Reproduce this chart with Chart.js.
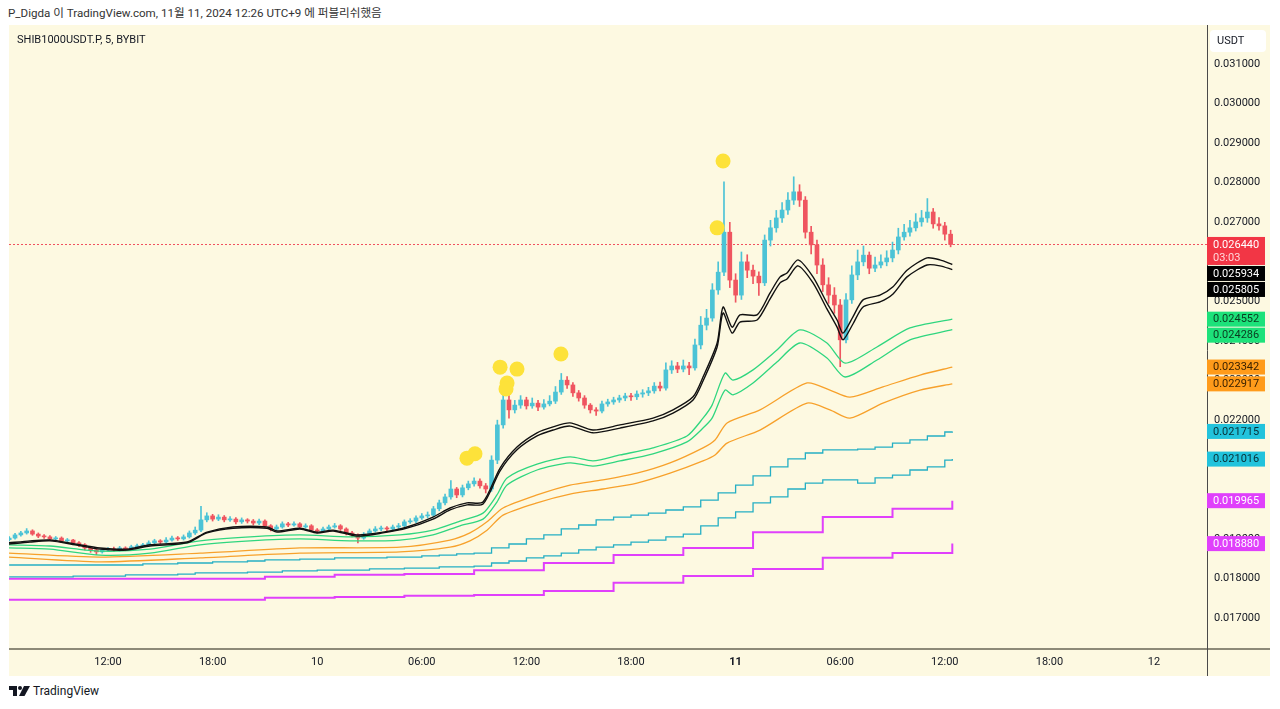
<!DOCTYPE html>
<html lang="ko">
<head>
<meta charset="utf-8">
<title>SHIB1000USDT.P, 5, BYBIT</title>
<script src="https://cdn.jsdelivr.net/npm/chart.js@4.4.1/dist/chart.umd.min.js"></script>
<style>
  html, body { margin: 0; padding: 0; background: #fff; width: 1280px; height: 709px; overflow: hidden;
    font-family: Roboto, "Liberation Sans", "Noto Sans CJK KR", sans-serif; }
  #header { position: absolute; left: 8px; top: 5px; font-size: 11.6px; line-height: 16px; color: #333; white-space: nowrap; }
  #frame { position: absolute; left: 9px; top: 25px; width: 1261px; height: 651px; background: #fdf9e1; }
  #chart { position: absolute; left: 0; top: 0; }
  #legend { position: absolute; left: 8px; top: 8px; font-size: 11px; line-height: 14px; color: #131722; }
  #footer { position: absolute; left: 9px; top: 684px; height: 14px; font-size: 12px; color: #131722;
    display: flex; align-items: center; gap: 3px; }
</style>
</head>
<body>
<div id="header">P_Digda 이 TradingView.com, 11월 11, 2024 12:26 UTC+9 에 퍼블리쉬했음</div>
<div id="frame">
  <canvas id="chart" width="1261" height="651"></canvas>
  <div id="legend">SHIB1000USDT.P, 5, BYBIT</div>
</div>
<div id="footer">
  <svg width="21" height="12" viewBox="0 0 21 12"><path d="M0 1H8V11H4V5H0Z" fill="#131722"/><circle cx="11" cy="3" r="2" fill="#131722"/><path d="M15 1H21L15.5 11H10Z" fill="#131722"/></svg>
  <span>TradingView</span>
</div>

<script>
/* ---------- axes (hours counted from 9 Nov 00:00, UTC+9) ---------- */
const xMin = 6.32;
const xMax = 75.04;
const yMin = 0.016242;
const yMax = 0.031986;
const xTickHours = [12, 18, 24, 30, 36, 42, 48, 54, 60, 66, 72];
const xTickLabels = ['12:00', '18:00', '10', '06:00', '12:00', '18:00', '11', '06:00', '12:00', '18:00', '12'];
const yTickValues = [0.017, 0.018, 0.019, 0.020, 0.021, 0.022, 0.023, 0.024, 0.025, 0.026, 0.027, 0.028, 0.029, 0.030, 0.031];

/* ---------- candles, 20 min each ---------- */
const candleStart = 6 + 20 / 60;
const candleStep = 20 / 60;
const firstOpen = 0.01898;
const closes = [
  0.01902,0.01910,0.01915,0.01920,0.01912,0.01907,0.01905,0.01900,0.01902,0.01895,
  0.01897,0.01890,0.01885,0.01877,0.01872,0.01867,0.01872,0.01874,0.01872,0.01877,
  0.01874,0.01880,0.01882,0.01885,0.01890,0.01895,0.01892,0.01897,0.01902,0.01900,
  0.01905,0.01915,0.01922,0.01948,0.01958,0.01950,0.01955,0.01948,0.01950,0.01943,
  0.01948,0.01945,0.01940,0.01945,0.01933,0.01925,0.01930,0.01938,0.01935,0.01938,
  0.01930,0.01933,0.01922,0.01920,0.01925,0.01930,0.01933,0.01925,0.01915,0.01910,
  0.01902,0.01912,0.01920,0.01925,0.01927,0.01925,0.01930,0.01933,0.01943,0.01945,
  0.01953,0.01958,0.01960,0.01976,0.01991,0.02006,0.02026,0.02011,0.02029,0.02039,
  0.02046,0.02034,0.02026,0.02099,0.02188,0.02251,0.02226,0.02238,0.02251,0.02236,
  0.02243,0.02233,0.02241,0.02248,0.02271,0.02301,0.02289,0.02269,0.02256,0.02238,
  0.02226,0.02223,0.02241,0.02246,0.02251,0.02256,0.02261,0.02259,0.02266,0.02269,
  0.02274,0.02286,0.02281,0.02327,0.02337,0.02329,0.02337,0.02332,0.02390,0.02440,
  0.02458,0.02529,0.02574,0.02675,0.02554,0.02516,0.02600,0.02579,0.02564,0.02547,
  0.02655,0.02686,0.02711,0.02731,0.02756,0.02777,0.02756,0.02675,0.02643,0.02592,
  0.02542,0.02516,0.02491,0.02403,0.02504,0.02567,0.02600,0.02617,0.02584,0.02592,
  0.02600,0.02610,0.02630,0.02663,0.02675,0.02686,0.02701,0.02711,0.02726,0.02696,
  0.02691,0.02670,0.02644
];
const highs = [
  0.01906,0.01914,0.01919,0.01926,0.01923,0.01915,0.01911,0.01908,0.01906,0.01905,
  0.01901,0.01899,0.01893,0.01888,0.01880,0.01875,0.01876,0.01878,0.01879,0.01881,
  0.01880,0.01884,0.01887,0.01889,0.01895,0.01899,0.01898,0.01903,0.01907,0.01906,
  0.01910,0.01920,0.01930,0.01982,0.01966,0.01962,0.01961,0.01959,0.01956,0.01954,
  0.01953,0.01951,0.01949,0.01950,0.01948,0.01936,0.01935,0.01943,0.01942,0.01943,
  0.01941,0.01938,0.01936,0.01926,0.01930,0.01935,0.01939,0.01936,0.01928,0.01919,
  0.01913,0.01916,0.01925,0.01931,0.01932,0.01931,0.01935,0.01939,0.01948,0.01951,
  0.01958,0.01964,0.01968,0.01982,0.01998,0.02013,0.02047,0.02030,0.02036,0.02046,
  0.02054,0.02052,0.02040,0.02110,0.02200,0.02290,0.02262,0.02250,0.02262,0.02258,
  0.02256,0.02250,0.02252,0.02262,0.02285,0.02318,0.02310,0.02295,0.02275,0.02262,
  0.02242,0.02232,0.02248,0.02253,0.02258,0.02263,0.02268,0.02268,0.02274,0.02277,
  0.02283,0.02295,0.02296,0.02345,0.02350,0.02346,0.02352,0.02346,0.02405,0.02462,
  0.02480,0.02545,0.02600,0.02802,0.02700,0.02570,0.02625,0.02618,0.02592,0.02575,
  0.02668,0.02705,0.02730,0.02750,0.02775,0.02815,0.02795,0.02765,0.02690,0.02655,
  0.02608,0.02560,0.02535,0.02505,0.02520,0.02590,0.02630,0.02640,0.02625,0.02612,
  0.02618,0.02628,0.02650,0.02685,0.02695,0.02705,0.02722,0.02730,0.02760,0.02735,
  0.02712,0.02700,0.02680
];
const lows = [
  0.01895,0.01899,0.01907,0.01912,0.01909,0.01903,0.01901,0.01896,0.01897,0.01891,
  0.01892,0.01886,0.01880,0.01872,0.01866,0.01860,0.01864,0.01869,0.01868,0.01869,
  0.01870,0.01871,0.01877,0.01879,0.01882,0.01887,0.01888,0.01889,0.01894,0.01896,
  0.01897,0.01902,0.01911,0.01918,0.01943,0.01945,0.01946,0.01943,0.01944,0.01938,
  0.01939,0.01940,0.01935,0.01936,0.01928,0.01920,0.01921,0.01927,0.01931,0.01932,
  0.01926,0.01927,0.01918,0.01915,0.01916,0.01922,0.01927,0.01921,0.01910,0.01905,
  0.01890,0.01899,0.01909,0.01917,0.01921,0.01920,0.01922,0.01926,0.01930,0.01939,
  0.01941,0.01949,0.01953,0.01956,0.01971,0.01986,0.02000,0.02004,0.02006,0.02024,
  0.02033,0.02028,0.02016,0.02020,0.02090,0.02180,0.02205,0.02218,0.02230,0.02228,
  0.02230,0.02224,0.02228,0.02236,0.02242,0.02265,0.02280,0.02260,0.02248,0.02230,
  0.02218,0.02212,0.02218,0.02235,0.02240,0.02245,0.02249,0.02250,0.02252,0.02258,
  0.02262,0.02268,0.02274,0.02276,0.02318,0.02320,0.02322,0.02315,0.02326,0.02380,
  0.02428,0.02450,0.02518,0.02565,0.02535,0.02498,0.02505,0.02560,0.02545,0.02515,
  0.02540,0.02640,0.02675,0.02700,0.02720,0.02745,0.02740,0.02660,0.02620,0.02570,
  0.02525,0.02495,0.02470,0.02335,0.02395,0.02495,0.02555,0.02590,0.02570,0.02575,
  0.02585,0.02590,0.02600,0.02620,0.02655,0.02665,0.02678,0.02690,0.02700,0.02685,
  0.02680,0.02655,0.02638
];

/* ---------- black band ---------- */
const blackTimes = [6.32,7.53,8.67,10.11,11.54,13.09,14.41,16.53,17.68,19.17,21.12,21.69,23.01,23.99,24.91,26.28,27.77,29.15,
  30.64,31.62,32.59,33.51,34.49,35.46,36.61,37.53,38.50,39.82,41.37,43.26,44.41,45.56,46.13,46.94,47.28,47.80,48.25,49.23,
  49.97,50.55,50.95,51.58,52.44,53.24,53.82,54.16,54.73,55.31,56.28,57.03,57.83,58.98,59.72,60.43];
const blackUpper = [
  0.01890,0.01895,0.01897,0.01887,0.01877,0.01874,0.01885,0.01892,0.01917,0.01930,
  0.01930,0.01920,0.01927,0.01917,0.01922,0.01910,0.01917,0.01930,0.01955,0.01978,
  0.01991,0.01993,0.02079,0.02132,0.02168,0.02183,0.02193,0.02175,0.02188,0.02205,
  0.02226,0.02259,0.02309,0.02395,0.02486,0.02435,0.02466,0.02466,0.02521,0.02562,
  0.02572,0.02605,0.02562,0.02496,0.02453,0.02420,0.02461,0.02504,0.02516,0.02537,
  0.02579,0.02610,0.02605,0.025934
];
const blackLower = [
  0.01887,0.01892,0.01895,0.01885,0.01874,0.01872,0.01882,0.01890,0.01915,0.01927,
  0.01927,0.01917,0.01925,0.01915,0.01920,0.01907,0.01915,0.01927,0.01950,0.01973,
  0.01986,0.01988,0.02072,0.02125,0.02160,0.02175,0.02185,0.02168,0.02180,0.02198,
  0.02218,0.02251,0.02299,0.02385,0.02471,0.02420,0.02448,0.02453,0.02506,0.02547,
  0.02557,0.02590,0.02547,0.02481,0.02435,0.02403,0.02443,0.02486,0.02499,0.02519,
  0.02562,0.02592,0.02590,0.025805
];

/* ---------- green band ---------- */
const greenTimes = [6.32,8.67,11.54,14.41,17.28,20.15,23.01,25.88,28.75,30.64,32.19,33.51,34.31,34.89,36.61,38.50,
  39.82,41.37,43.26,45.21,46.13,46.65,47.39,47.85,49.00,50.37,51.69,53.24,54.28,56.11,58.00,60.43];
const greenUpper = [
  0.01885,0.01882,0.01869,0.01874,0.01895,0.01905,0.01910,0.01905,0.01910,0.01922,
  0.01945,0.01965,0.02011,0.02054,0.02089,0.02107,0.02097,0.02112,0.02130,0.02160,
  0.02205,0.02238,0.02319,0.02301,0.02327,0.02377,0.02428,0.02395,0.02344,0.02385,
  0.02433,0.024552
];
const greenLower = [
  0.01877,0.01874,0.01859,0.01864,0.01885,0.01895,0.01900,0.01895,0.01897,0.01910,
  0.01933,0.01950,0.01993,0.02036,0.02074,0.02092,0.02084,0.02097,0.02115,0.02145,
  0.02180,0.02205,0.02276,0.02264,0.02294,0.02347,0.02395,0.02357,0.02309,0.02352,
  0.02403,0.024286
];

/* ---------- orange band ---------- */
const orangeTimes = [6.32,11.54,17.28,23.01,28.75,31.62,32.76,33.74,34.66,36.61,38.50,40.39,42.34,44.24,46.13,46.82,
  47.51,49.40,52.10,53.41,54.56,56.45,58.58,60.43];
const orangeUpper = [
  0.01864,0.01854,0.01864,0.01877,0.01879,0.01897,0.01915,0.01943,0.01978,0.02011,
  0.02036,0.02049,0.02066,0.02092,0.02130,0.02150,0.02193,0.02226,0.02294,0.02276,
  0.02258,0.02284,0.02314,0.023342
];
const orangeLower = [
  0.01854,0.01842,0.01852,0.01864,0.01867,0.01879,0.01895,0.01922,0.01960,0.01991,
  0.02013,0.02026,0.02041,0.02066,0.02097,0.02112,0.02142,0.02175,0.02243,0.02226,
  0.02205,0.02243,0.02276,0.022917
];

/* ---------- teal band (hourly steps) ---------- */
const tealTimes = [6.33,7,8,9,10,11,12,13,14,15,16,17,18,19,20,21,22,23,24,25,26,27,28,29,30,31,32,33,34,35,36,37,38,39,
  40,41,42,43,44,45,46,47,48,49,50,51,52,53,54,55,56,57,58,59,60,60.43];
const tealUpper = [
  0.01834,0.01834,0.01834,0.01834,0.01834,0.01834,0.01834,0.01834,0.01837,0.01837,
  0.01839,0.01839,0.01842,0.01842,0.01844,0.01847,0.01847,0.01849,0.01849,0.01852,
  0.01852,0.01852,0.01854,0.01854,0.01857,0.01859,0.01862,0.01864,0.01877,0.01887,
  0.01900,0.01910,0.01925,0.01935,0.01948,0.01955,0.01960,0.01965,0.01973,0.01981,
  0.01998,0.02016,0.02036,0.02059,0.02082,0.02102,0.02117,0.02125,0.02125,0.02127,
  0.02132,0.02142,0.02150,0.02160,0.02170,0.021715
];
const tealLower = [
  0.01804,0.01804,0.01804,0.01804,0.01806,0.01806,0.01806,0.01809,0.01809,0.01809,
  0.01811,0.01814,0.01814,0.01814,0.01816,0.01816,0.01819,0.01819,0.01821,0.01821,
  0.01821,0.01824,0.01824,0.01826,0.01826,0.01829,0.01829,0.01831,0.01839,0.01844,
  0.01852,0.01857,0.01864,0.01872,0.01879,0.01885,0.01892,0.01897,0.01905,0.01912,
  0.01933,0.01953,0.01968,0.01991,0.02006,0.02026,0.02041,0.02049,0.02049,0.02041,
  0.02054,0.02061,0.02074,0.02082,0.02099,0.021016
];

/* ---------- magenta band (4h steps) ---------- */
const magentaTimes = [6.32,21,25,29,33,37,41,45,49,53,57,60.43];
const magentaUpper = [0.01799,0.01804,0.01809,0.01811,0.01821,0.01839,0.01859,0.01877,0.01917,0.01955,0.01976,0.019965];
const magentaLower = [0.01746,0.01751,0.01753,0.01756,0.01758,0.01768,0.01789,0.01806,0.01824,0.01852,0.01864,0.018880];

/* ---------- yellow signal dots ---------- */
const dotTimes = [47.28, 46.94, 37.98, 34.49, 35.46, 34.89, 34.83, 32.59, 33.05];
const dotPrices = [0.02855, 0.02686, 0.02367, 0.02334, 0.02329, 0.02294, 0.02279, 0.02104, 0.02115];

/* ---------- styling ---------- */
const FONT = "Roboto, 'Liberation Sans', sans-serif";
const TEXT = '#131722';
const UP = '#4cc3d6';
const DOWN = '#ef5560';
const colors = {
  black: '#111111', green: '#2fd67f', orange: '#f7a12b', teal: '#25afc4', magenta: '#e040fb', dot: '#fde23a',
};

const last = arr => arr[arr.length - 1];
const toPoints = (times, values) => times.map((t, i) => ({ x: t, y: values[i] }));

const candleTimes = closes.map((_, i) => candleStart + i * candleStep);
const opens = closes.map((c, i) => (i === 0 ? firstOpen : closes[i - 1]));
const candleColors = closes.map((c, i) => (c >= opens[i] ? UP : DOWN));

const priceLabels = [
  { value: last(closes), bg: '#f23645', fg: '#ffffff', sub: '03:03', subColor: '#ffd6d9' },
  { value: last(blackUpper), bg: '#000000', fg: '#ffffff' },
  { value: last(blackLower), bg: '#000000', fg: '#ffffff' },
  { value: last(greenUpper), bg: '#1de27a', fg: '#0b3a1f' },
  { value: last(greenLower), bg: '#1de27a', fg: '#0b3a1f' },
  { value: last(orangeUpper), bg: '#ff9b1a', fg: '#3b2200' },
  { value: last(orangeLower), bg: '#ff9b1a', fg: '#3b2200' },
  { value: last(tealUpper), bg: '#22c3dc', fg: '#082f36' },
  { value: last(tealLower), bg: '#22c3dc', fg: '#082f36' },
  { value: last(magentaUpper), bg: '#e040fb', fg: '#ffffff' },
  { value: last(magentaLower), bg: '#e040fb', fg: '#ffffff' },
];

function line(label, times, values, color, width, order, stepped) {
  return {
    type: 'line', label, data: toPoints(times, values), borderColor: color, borderWidth: width,
    pointRadius: 0, tension: stepped ? 0 : 0.25, stepped: stepped || false, fill: false, order,
  };
}

/* draws the last-price line, axis separators and the right-side value tags */
const tvOverlay = {
  id: 'tvOverlay',
  beforeDatasetsDraw(chart) {
    const { ctx, chartArea: a, scales: { y } } = chart;
    const py = Math.round(y.getPixelForValue(last(closes))) + 0.5;
    ctx.save();
    ctx.strokeStyle = '#f0505e';
    ctx.lineWidth = 1;
    ctx.setLineDash([2, 2]);
    ctx.beginPath();
    ctx.moveTo(a.left, py);
    ctx.lineTo(a.right, py);
    ctx.stroke();
    ctx.restore();
  },
  afterDraw(chart) {
    const { ctx, chartArea: a, scales: { y }, width, height } = chart;
    ctx.save();

    ctx.strokeStyle = '#8d8a78';
    ctx.lineWidth = 2;
    ctx.beginPath();
    ctx.moveTo(0, a.bottom + 1);
    ctx.lineTo(width, a.bottom + 1);
    ctx.stroke();

    ctx.strokeStyle = '#4a4a4a';
    ctx.lineWidth = 1;
    ctx.beginPath();
    ctx.moveTo(a.right + 0.5, 0);
    ctx.lineTo(a.right + 0.5, height);
    ctx.stroke();

    // value tags, pushed down so they never overlap
    ctx.font = `11px ${FONT}`;
    ctx.textBaseline = 'middle';
    let prevBottom = -Infinity;
    priceLabels.forEach(l => {
      const py = y.getPixelForValue(l.value);
      const h = l.sub ? 28 : 15;
      const top = Math.max(py - 7.5, prevBottom + 1);
      ctx.fillStyle = l.bg;
      ctx.fillRect(a.right, top, 58, h);
      ctx.fillStyle = l.fg;
      ctx.fillText(l.value.toFixed(6), a.right + 6, top + 8);
      if (l.sub) {
        ctx.fillStyle = l.subColor;
        ctx.fillText(l.sub, a.right + 6, top + 21);
      }
      prevBottom = top + h;
    });

    // currency box
    ctx.fillStyle = '#ffffff';
    ctx.beginPath();
    ctx.roundRect(a.right + 3, 5, 56, 22, 4);
    ctx.fill();
    ctx.fillStyle = TEXT;
    ctx.fillText('USDT', a.right + 10, 16.5);

    ctx.restore();
  },
};

new Chart(document.getElementById('chart'), {
  type: 'line',
  data: {
    datasets: [
      {
        type: 'line', label: 'signals', data: toPoints(dotTimes, dotPrices), showLine: false,
        pointRadius: 7.5, pointBackgroundColor: colors.dot, pointBorderWidth: 0, order: 0,
      },
      line('black 1', blackTimes, blackUpper, colors.black, 1.4, 1),
      line('black 2', blackTimes, blackLower, colors.black, 1.4, 1),
      line('green 1', greenTimes, greenUpper, colors.green, 1.3, 2),
      line('green 2', greenTimes, greenLower, colors.green, 1.3, 2),
      line('orange 1', orangeTimes, orangeUpper, colors.orange, 1.3, 3),
      line('orange 2', orangeTimes, orangeLower, colors.orange, 1.3, 3),
      line('teal 1', tealTimes, tealUpper, colors.teal, 1.3, 4, true),
      line('teal 2', tealTimes, tealLower, colors.teal, 1.3, 4, true),
      line('magenta 1', magentaTimes, magentaUpper, colors.magenta, 2, 5, true),
      line('magenta 2', magentaTimes, magentaLower, colors.magenta, 2, 5, true),
      {
        type: 'bar', label: 'body', order: 6, grouped: false, barThickness: 4, minBarLength: 1,
        data: candleTimes.map((t, i) => ({ x: t, y: [opens[i], closes[i]] })),
        backgroundColor: candleColors, borderWidth: 0,
      },
      {
        type: 'bar', label: 'wick', order: 7, grouped: false, barThickness: 1,
        data: candleTimes.map((t, i) => ({ x: t, y: [lows[i], highs[i]] })),
        backgroundColor: candleColors, borderWidth: 0,
      },
    ],
  },
  options: {
    responsive: false,
    devicePixelRatio: 1,
    animation: false,
    layout: { padding: 0, autoPadding: false },
    plugins: { legend: { display: false }, tooltip: { enabled: false } },
    scales: {
      x: {
        type: 'linear', min: xMin, max: xMax, offset: false,
        grid: { display: false, drawTicks: false },
        border: { display: false },
        afterBuildTicks: axis => { axis.ticks = xTickHours.map(v => ({ value: v })); },
        afterFit: axis => { axis.height = 28; axis.paddingLeft = 0; axis.paddingRight = 0; },
        ticks: {
          autoSkip: false, maxRotation: 0, padding: 8, color: TEXT,
          font: c => ({ family: FONT, size: 11, weight: c.tick && c.tick.value === 48 ? 'bold' : 'normal' }),
          callback: v => xTickLabels[xTickHours.indexOf(v)],
        },
      },
      y: {
        type: 'linear', position: 'right', min: yMin, max: yMax, beginAtZero: false,
        grid: { display: false, drawTicks: false },
        border: { display: false },
        afterBuildTicks: axis => { axis.ticks = yTickValues.map(v => ({ value: v })); },
        afterFit: axis => { axis.width = 63; axis.paddingTop = 0; axis.paddingBottom = 0; },
        ticks: {
          padding: 7, color: TEXT, font: { family: FONT, size: 11 },
          callback: v => v.toFixed(6),
        },
      },
    },
  },
  plugins: [tvOverlay],
});
</script>
</body>
</html>
